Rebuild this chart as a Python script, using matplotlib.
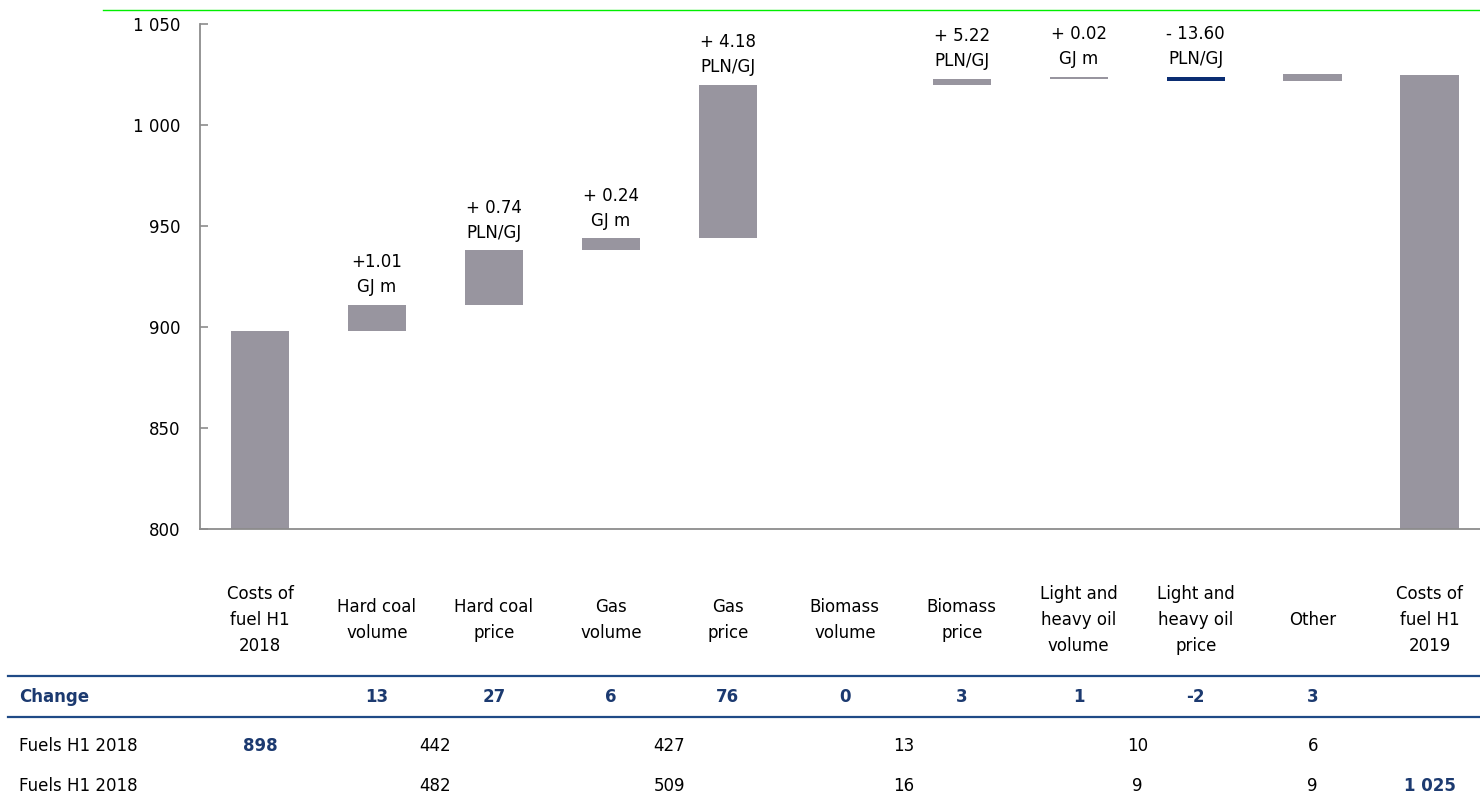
import numpy as np
import matplotlib
matplotlib.use("Agg")
import matplotlib.pyplot as plt
from matplotlib.lines import Line2D
from matplotlib.transforms import blended_transform_factory

# ---- data -------------------------------------------------------------
categories = [
    "Costs of\nfuel H1\n2018",
    "Hard coal\nvolume",
    "Hard coal\nprice",
    "Gas\nvolume",
    "Gas\nprice",
    "Biomass\nvolume",
    "Biomass\nprice",
    "Light and\nheavy oil\nvolume",
    "Light and\nheavy oil\nprice",
    "Other",
    "Costs of\nfuel H1\n2019",
]
start_total = 898
end_total = 1025
changes = [13, 27, 6, 76, 0, 3, 1, -2, 3]
change_notes = [
    "+1.01\nGJ m",
    "+ 0.74\nPLN/GJ",
    "+ 0.24\nGJ m",
    "+ 4.18\nPLN/GJ",
    "",
    "+ 5.22\nPLN/GJ",
    "+ 0.02\nGJ m",
    "- 13.60\nPLN/GJ",
    "",
]
y_ticks = [800, 850, 900, 950, 1000, 1050]

# fuel breakdown rows: each group spans the listed category columns
fuel_group_columns = [(1, 2), (3, 4), (5, 6), (7, 8), (9,)]
fuels_row1_label = "Fuels H1 2018"
fuels_row1 = [442, 427, 13, 10, 6]
fuels_row2_label = "Fuels H1 2018"
fuels_row2 = [482, 509, 16, 9, 9]

# ---- style ------------------------------------------------------------
GREY = "#98959F"
NAVY_BAR = "#0B2D72"
NAVY_TEXT = "#1C3A70"
NAVY_RULE = "#1F4A86"
AXIS_GREY = "#8C8C8C"
FS = 12
plt.rcParams["font.family"] = ["DejaVu Sans"]

W, H = 1480, 800
fig = plt.figure(figsize=(W / 100, H / 100), dpi=100)
ax = fig.add_axes([200 / W, 271 / H, 1280 / W, 505 / H])

# ---- waterfall --------------------------------------------------------
levels = np.cumsum([start_total] + changes)
n = len(categories)
x = np.arange(n)
bw = 0.5

ax.bar(x[0], start_total - 800, bottom=800, width=bw, color=GREY, linewidth=0)
ax.bar(x[-1], end_total - 800, bottom=800, width=bw, color=GREY, linewidth=0)

for i, d in enumerate(changes):
    xi = x[i + 1]
    lo = min(levels[i], levels[i + 1])
    if d != 0:
        ax.bar(xi, abs(d), bottom=lo, width=bw,
               color=GREY if d > 0 else NAVY_BAR, linewidth=0)
    if change_notes[i]:
        top = max(levels[i], levels[i + 1])
        ax.annotate(change_notes[i], (xi, top), xytext=(0, 6),
                    textcoords="offset points", ha="center", va="bottom",
                    fontsize=FS, linespacing=1.5)

ax.set_xlim(-0.513, 10.43)
ax.set_ylim(800, 1050)
ax.set_yticks(y_ticks)
ax.set_yticklabels([f"{v:,}".replace(",", " ") for v in y_ticks], fontsize=FS)
ax.set_xticks([])
ax.tick_params(axis="y", direction="in", length=6, width=1.2,
               color=AXIS_GREY, pad=14)
for s in ("top", "right"):
    ax.spines[s].set_visible(False)
for s in ("left", "bottom"):
    ax.spines[s].set_color(AXIS_GREY)
    ax.spines[s].set_linewidth(1.3)

# ---- category labels and table ----------------------------------------
tr = blended_transform_factory(ax.transData, fig.transFigure)
fy = lambda px: 1 - px / H

for i, c in enumerate(categories):
    ax.text(x[i], fy(620), c, transform=tr, ha="center", va="center",
            fontsize=FS, linespacing=1.55, multialignment="center")

for yy in (676, 717):
    fig.add_artist(Line2D([8 / W, 1.0], [fy(yy), fy(yy)], color=NAVY_RULE,
                          linewidth=1.6, transform=fig.transFigure))

fig.text(19 / W, fy(697), "Change", ha="left", va="center", fontsize=FS,
         fontweight="bold", color=NAVY_TEXT)
for i, d in enumerate(changes):
    ax.text(x[i + 1], fy(697), f"{d}", transform=tr, ha="center", va="center",
            fontsize=FS, fontweight="bold", color=NAVY_TEXT)

for row_y, label, vals in ((746, fuels_row1_label, fuels_row1),
                           (786, fuels_row2_label, fuels_row2)):
    fig.text(19 / W, fy(row_y), label, ha="left", va="center", fontsize=FS)
    for cols, v in zip(fuel_group_columns, vals):
        ax.text(np.mean(cols), fy(row_y), f"{v}", transform=tr,
                ha="center", va="center", fontsize=FS)

ax.text(x[0], fy(746), f"{start_total:,}".replace(",", " "), transform=tr,
        ha="center", va="center", fontsize=FS, fontweight="bold",
        color=NAVY_TEXT)
ax.text(x[-1], fy(786), f"{end_total:,}".replace(",", " "), transform=tr,
        ha="center", va="center", fontsize=FS, fontweight="bold",
        color=NAVY_TEXT)

# thin rule across the top
fig.add_artist(Line2D([103 / W, 1.0], [fy(10), fy(10)], color="#00EE00",
                      linewidth=1.0, transform=fig.transFigure))

fig.savefig("out.png", dpi=100)
